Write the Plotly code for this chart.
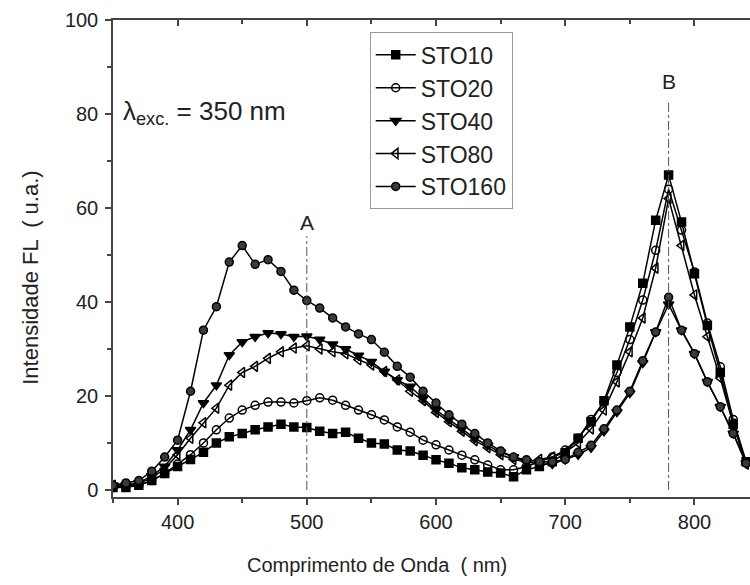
import plotly.graph_objects as go

# Emission wavelength grid (nm)
wavelength = list(range(350, 850, 10))

sto10 = [0.5, 0.5, 1.0, 2.0, 3.5, 5.0, 6.5, 8.0, 10.0, 11.3,
         12.0, 12.8, 13.4, 14.0, 13.4, 13.3, 12.5, 12.0, 12.3, 11.0,
         10.0, 9.8, 8.5, 8.3, 7.4, 6.4, 5.7, 4.7, 4.3, 3.8,
         3.6, 2.8, 4.3, 5.0, 6.0, 7.9, 11.0, 14.5, 19.0, 26.6,
         34.7, 44.0, 57.4, 67.0, 57.0, 46.0, 35.0, 25.0, 14.0, 6.0]

sto20 = [0.5, 1.0, 1.0, 2.0, 3.5, 5.5, 7.5, 10.0, 12.8, 15.3,
         17.0, 18.0, 18.7, 18.7, 18.5, 19.0, 19.6, 19.1, 18.0, 17.0,
         16.0, 14.9, 13.4, 12.3, 10.6, 9.6, 8.5, 7.4, 6.4, 5.3,
         4.3, 4.3, 5.0, 6.0, 7.0, 8.5, 11.0, 15.0, 18.7, 25.0,
         32.0, 40.4, 51.0, 64.0, 55.3, 46.4, 35.5, 26.2, 15.0, 6.0]

sto40 = [1.0, 1.0, 1.5, 3.0, 5.0, 8.5, 12.8, 18.5, 22.3, 28.7,
         31.5, 32.6, 33.4, 33.2, 32.6, 32.7, 32.0, 31.0, 30.0, 28.6,
         27.3, 25.2, 23.4, 22.0, 19.5, 17.0, 15.0, 13.0, 11.0, 9.5,
         8.0, 7.0, 6.0, 5.5, 5.5, 6.5, 7.5, 9.0, 12.5, 16.6,
         20.6, 27.0, 33.6, 39.5, 34.0, 29.0, 23.0, 17.7, 12.0, 5.7]

sto80 = [1.0, 1.0, 1.5, 2.5, 4.5, 7.5, 11.0, 14.3, 17.4, 22.3,
         25.0, 26.3, 28.0, 29.4, 30.2, 30.7, 30.0, 29.4, 29.0, 27.7,
         26.6, 25.2, 23.4, 21.0, 19.0, 16.5, 14.5, 12.5, 10.5, 9.0,
         7.5, 6.5, 6.0, 6.5, 7.0, 8.0, 10.0, 13.0, 17.0, 23.0,
         29.4, 36.6, 47.2, 62.0, 52.0, 41.5, 32.6, 23.8, 14.0, 5.5]

sto160 = [1.0, 1.5, 2.0, 4.0, 7.0, 10.6, 21.0, 34.0, 39.0, 48.5,
          52.0, 48.0, 49.0, 46.5, 42.5, 40.3, 38.7, 36.6, 34.7, 33.2,
          32.0, 29.3, 26.3, 24.0, 21.0, 18.5, 16.0, 14.0, 12.0, 10.0,
          8.3, 7.0, 6.4, 6.0, 6.0, 6.5, 8.0, 9.5, 13.0, 17.0,
          21.0, 27.5, 33.6, 41.0, 34.0, 29.0, 23.0, 17.7, 12.0, 5.7]

names = ["STO10", "STO20", "STO40", "STO80", "STO160"]
series = [sto10, sto20, sto40, sto80, sto160]
symbols = ["square", "circle-open", "triangle-down", "triangle-left-open", "circle"]
fills = ["black", "black", "black", "black", "#3a3a3a"]

# Band positions marked on the spectrum
band_labels = ["A", "B"]
band_x = [500, 780]
band_top = [54, 83]
band_label_y = [57, 87]

FONT = "Liberation Sans, Arial, sans-serif"
TXT = "#222"

fig = go.Figure()

for name, ys, sym, fc in zip(names, series, symbols, fills):
    fig.add_trace(go.Scatter(
        x=wavelength, y=ys, name=name, mode="lines+markers",
        line=dict(color="black", width=1.5),
        marker=dict(symbol=sym, size=8 if "triangle" not in sym else 9,
                    color=fc, line=dict(color="black", width=1.5)),
    ))

# Dash-dot guide lines for bands A and B
for lab, bx, top, ly in zip(band_labels, band_x, band_top, band_label_y):
    fig.add_trace(go.Scatter(
        x=[bx, bx], y=[0, top], mode="lines", showlegend=False,
        line=dict(color="#555", width=1, dash="dashdot"), hoverinfo="skip",
    ))
    fig.add_annotation(x=bx, y=ly, text=lab, showarrow=False,
                       font=dict(size=21, color=TXT))

# Invisible trace to carry the mirrored top axis
fig.add_trace(go.Scatter(x=[wavelength[0]], y=[None], xaxis="x2",
                         showlegend=False, hoverinfo="skip"))

fig.add_annotation(x=0.012, xref="paper", y=80.3, xanchor="left",
                   yanchor="middle", showarrow=False,
                   text="λ<sub>exc.</sub> = 350 nm",
                   font=dict(size=26, color=TXT))

# Axis titles
fig.add_annotation(x=0.414, xref="paper", y=-0.143, yref="paper",
                   xanchor="center", yanchor="middle",
                   text="Comprimento de Onda  ( nm)", showarrow=False,
                   font=dict(size=20, color=TXT))
fig.add_annotation(x=-0.13, xref="paper", y=0.46, yref="paper",
                   xanchor="center", yanchor="middle",
                   text="Intensidade FL  ( u.a.)", showarrow=False,
                   textangle=-90, font=dict(size=22, color=TXT))

axis_font = dict(family=FONT, size=20, color=TXT)

fig.update_layout(
    width=750, height=585,
    margin=dict(l=113, r=0, t=20, b=88),
    paper_bgcolor="white", plot_bgcolor="white",
    font=dict(family=FONT, color=TXT),
    showlegend=True,
    legend=dict(x=0.403, y=0.974, xanchor="left", yanchor="top",
                bgcolor="white", bordercolor="#999", borderwidth=1,
                font=dict(size=23, color=TXT), itemwidth=40),
    xaxis=dict(range=[350, 843], showgrid=False, zeroline=False,
               showline=True, linecolor="#444", linewidth=1.5,
               ticks="outside", ticklen=6, tickwidth=1.5, tickcolor="#444",
               tickvals=[400, 500, 600, 700, 800],
               minor=dict(tickvals=[350, 450, 550, 650, 750, 850],
                          ticks="outside", ticklen=4, tickcolor="#444"),
               tickfont=axis_font),
    xaxis2=dict(overlaying="x", side="top", range=[350, 843],
                showgrid=False, zeroline=False, showline=True,
                linecolor="#444", linewidth=1.5, showticklabels=False,
                ticks="inside", ticklen=6, tickwidth=1.5, tickcolor="#444",
                tickvals=[400, 500, 600, 700, 800],
                minor=dict(tickvals=[350, 450, 550, 650, 750, 850],
                           ticks="inside", ticklen=4, tickcolor="#444")),
    yaxis=dict(range=[-1.5, 100], showgrid=False, zeroline=False,
               showline=True, linecolor="#444", linewidth=1.5,
               ticks="outside", ticklen=6, tickwidth=1.5, tickcolor="#444",
               tickvals=[0, 20, 40, 60, 80, 100],
               minor=dict(tickvals=[10, 30, 50, 70, 90],
                          ticks="outside", ticklen=4, tickcolor="#444"),
               ticklabelstandoff=3, tickfont=axis_font),
)

fig.write_html("out.html")
